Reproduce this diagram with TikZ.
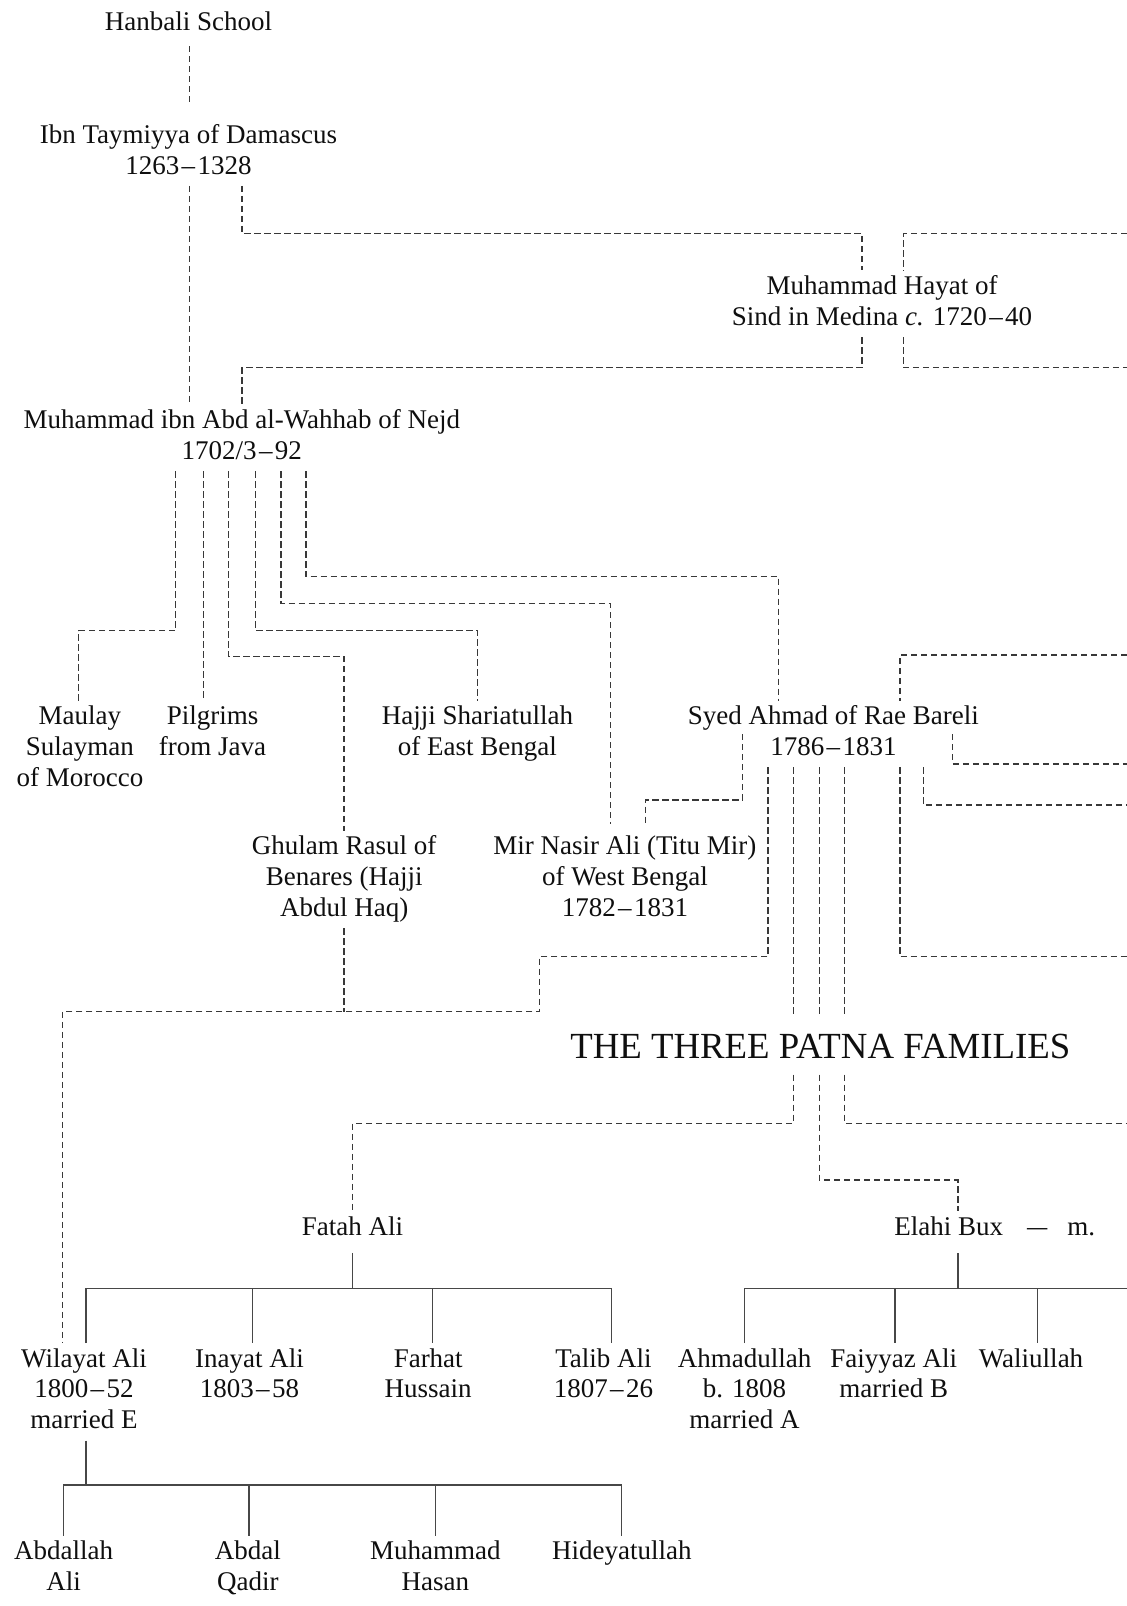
\documentclass[tikz,border=0pt]{standalone}
\usepackage{fontspec}
\setmainfont{Liberation Serif}
\usetikzlibrary{calc}
% one drawing unit
\newlength\ux
\setlength\ux{0.51225pt}
% fixed-height line so that every text line takes exactly one baseline step
\newcommand\rowstrut{\vrule height 21\ux depth 9\ux width 0pt}
\newcommand\yrdash{\kern1.2pt–\kern1.2pt}

\begin{document}
\begin{tikzpicture}[x=0.51225pt, y=-0.51225pt,
  person/.style={font=\fontsize{13.5pt}{15.37pt}\selectfont, inner sep=0pt,
    outer xsep=0pt, outer ysep=1.3pt, align=center, text=black!94},
  familytitle/.style={font=\fontsize{18.4pt}{22pt}\selectfont, inner sep=0pt,
    outer sep=1.3pt, text height=21pt, text depth=6.6pt, anchor=base, text=black!94},
  dl/.style={draw=black!78, line width=0.6pt, dash pattern=on 3.2pt off 1.8pt},
  sl/.style={draw=black!72, line width=0.6pt}]

\useasboundingbox[fill=white] (0,0) rectangle (1100,1567.6);

% ---------- people ----------
\node[person] (hanbali) at (184,23.5) {\rowstrut Hanbali School};
\node[person] (ibn) at (184,149) {\rowstrut Ibn Taymiyya of Damascus\\\rowstrut 1263\yrdash1328};
\node[person] (hayat) at (861,296.5) {\rowstrut Muhammad Hayat of\\\rowstrut Sind in Medina \textit{c.} 1720\yrdash40};
\node[person] (wahhab) at (236,427.5) {\rowstrut Muhammad ibn Abd al-Wahhab of Nejd\\\rowstrut 1702/3\yrdash92};
\node[person] (maulay) at (78,731.5) {\rowstrut Maulay\\\rowstrut Sulayman\\\rowstrut of Morocco};
\node[person] (pilgrims) at (207.5,716.5) {\rowstrut Pilgrims\\\rowstrut from Java};
\node[person] (hajji) at (466,716.5) {\rowstrut Hajji Shariatullah\\\rowstrut of East Bengal};
\node[person] (syed) at (813.5,716.5) {\rowstrut Syed Ahmad of Rae Bareli\\\rowstrut 1786\yrdash1831};
\node[person] (ghulam) at (336,858.5) {\rowstrut Ghulam Rasul of\\\rowstrut Benares (Hajji\\\rowstrut Abdul Haq)};
\node[person] (mir) at (610,858.5) {\rowstrut Mir Nasir Ali (Titu Mir)\\\rowstrut of West Bengal\\\rowstrut 1782\yrdash1831};
\node[familytitle] (patna) at (800.7,1033.6) {THE THREE PATNA FAMILIES};
\node[person] (fatah) at (344,1199.5) {\rowstrut Fatah Ali};
\node[person, anchor=west] (elahi) at (873,1199.5) {\rowstrut Elahi Bux\hspace{12pt}\scalebox{0.75}[1]{—}\hspace{10pt}m.};
\node[person] (wilayat) at (82,1358.5) {\rowstrut Wilayat Ali\\\rowstrut 1800\yrdash52\\\rowstrut married E};
\node[person] (inayat) at (243.5,1343.5) {\rowstrut Inayat Ali\\\rowstrut 1803\yrdash58};
\node[person] (farhat) at (418,1343.5) {\rowstrut Farhat\\\rowstrut Hussain};
\node[person] (talib) at (589,1343.5) {\rowstrut Talib Ali\\\rowstrut 1807\yrdash26};
\node[person] (ahmadullah) at (726.7,1358.5) {\rowstrut Ahmadullah\\\rowstrut b. 1808\\\rowstrut married A};
\node[person] (faiyyaz) at (872.4,1343.5) {\rowstrut Faiyyaz Ali\\\rowstrut married B};
\node[person] (waliullah) at (1006.4,1328.5) {\rowstrut Waliullah};
\node[person] (abdallah) at (62,1531.5) {\rowstrut Abdallah\\\rowstrut Ali};
\node[person] (abdal) at (242,1531.5) {\rowstrut Abdal\\\rowstrut Qadir};
\node[person] (muhammad) at (425,1531.5) {\rowstrut Muhammad\\\rowstrut Hasan};
\node[person] (hideyatullah) at (607,1516.5) {\rowstrut Hideyatullah};

% ---------- lines running off the right edge ----------
\coordinate (rA) at (1100,228);
\coordinate (rB) at (1100,359);
\coordinate (rC) at (1100,639.3);
\coordinate (rD) at (1100,745.7);
\coordinate (rE) at (1100,785.8);
\coordinate (rF) at (1100,933.8);
\coordinate (rG) at (1100,1096.5);
\coordinate (rH) at (1100,1257.5);

% ---------- dashed lines of influence ----------
\draw[dl, shorten <=2pt, shorten >=8.7pt] (hanbali.south -| 185,0) -- (ibn.north -| 185,0);
\draw[dl] (ibn.south -| 185,0) -- (wahhab.north -| 185,0);
\draw[dl] (ibn.south -| 236.3,0) -- (236.3,228) -| (hayat.north -| 841.4,0);
\draw[dl] (rA) -| (hayat.north -| 882,0);
\draw[dl] (hayat.south -| 841.4,0) |- (236.3,359) -- (wahhab.north -| 236.3,0);
\draw[dl] (hayat.south -| 882,0) |- (rB);

\draw[dl] (wahhab.south -| 171.5,0) |- (76.7,615.5) -- (maulay.north -| 76.7,0);
\draw[dl] (wahhab.south -| 198.7,0) -- (pilgrims.north -| 198.7,0);
\draw[dl] (wahhab.south -| 223.1,0) |- (335.8,641) -- (ghulam.north -| 335.8,0);
\draw[dl] (wahhab.south -| 249.3,0) |- (466,615.5) -- (hajji.north -| 466,0);
\draw[dl, shorten >=3.5pt] (wahhab.south -| 274.3,0) |- (595.7,589) -- (mir.north -| 595.7,0);
\draw[dl] (wahhab.south -| 298.7,0) |- (760.2,563) -- (syed.north -| 760.2,0);
\draw[dl] (rC) -| (syed.north -| 878.5,0);

\draw[dl, shorten >=3.5pt] (syed.center -| 725,0) |- (630,780.9) -- (mir.north -| 630,0);
\draw[dl] (syed.center -| 930,0) |- (rD);
\draw[dl] (syed.south -| 749.6,0) |- (526.3,933.8) -- (526.3,987.5) -| (wilayat.north -| 61,0);
\draw[dl] (ghulam.south -| 335.8,0) -- (335.8,987.5);
\foreach \lx in {774.3,799.7,824.4}
  \draw[dl] (syed.south -| \lx,0) -- (patna.north -| \lx,0);
\draw[dl] (syed.south -| 878.5,0) |- (rF);
\draw[dl] (syed.south -| 901.4,0) |- (rE);

\draw[dl] (patna.south -| 774.3,0) |- (344,1096.5) -- (fatah.north -| 344,0);
\draw[dl] (patna.south -| 799.7,0) |- (935,1151.8) -- (elahi.north -| 935,0);
\draw[dl] (patna.south -| 824.4,0) |- (rG);

% ---------- family descent ----------
\draw[sl] ([yshift=-3pt]fatah.south) -- (fatah.south |- 0,1257.5);
\draw[sl] (wilayat.north -| 84,0) |- (596.5,1257.5) -- (talib.north -| 596.5,0);
\draw[sl] (246.5,1257.5) -- (inayat.north -| 246.5,0);
\draw[sl] (422.3,1257.5) -- (farhat.north -| 422.3,0);

\draw[sl] ($(elahi.south -| 935,0)+(0,6)$) -- (935,1257.5);
\draw[sl] (ahmadullah.north -| 726.7,0) |- (rH);
\draw[sl] (873.6,1257.5) -- (faiyyaz.north -| 873.6,0);
\draw[sl] (1012.4,1257.5) -- (waliullah.north -| 1012.4,0);

\draw[sl] (wilayat.south -| 84,0) -- (84,1449.5);
\draw[sl] (abdallah.north -| 61.6,0) |- (607,1449.5) -- (hideyatullah.north -| 607,0);
\draw[sl] (243,1449.5) -- (abdal.north -| 243,0);
\draw[sl] (425,1449.5) -- (muhammad.north -| 425,0);

\end{tikzpicture}
\end{document}
